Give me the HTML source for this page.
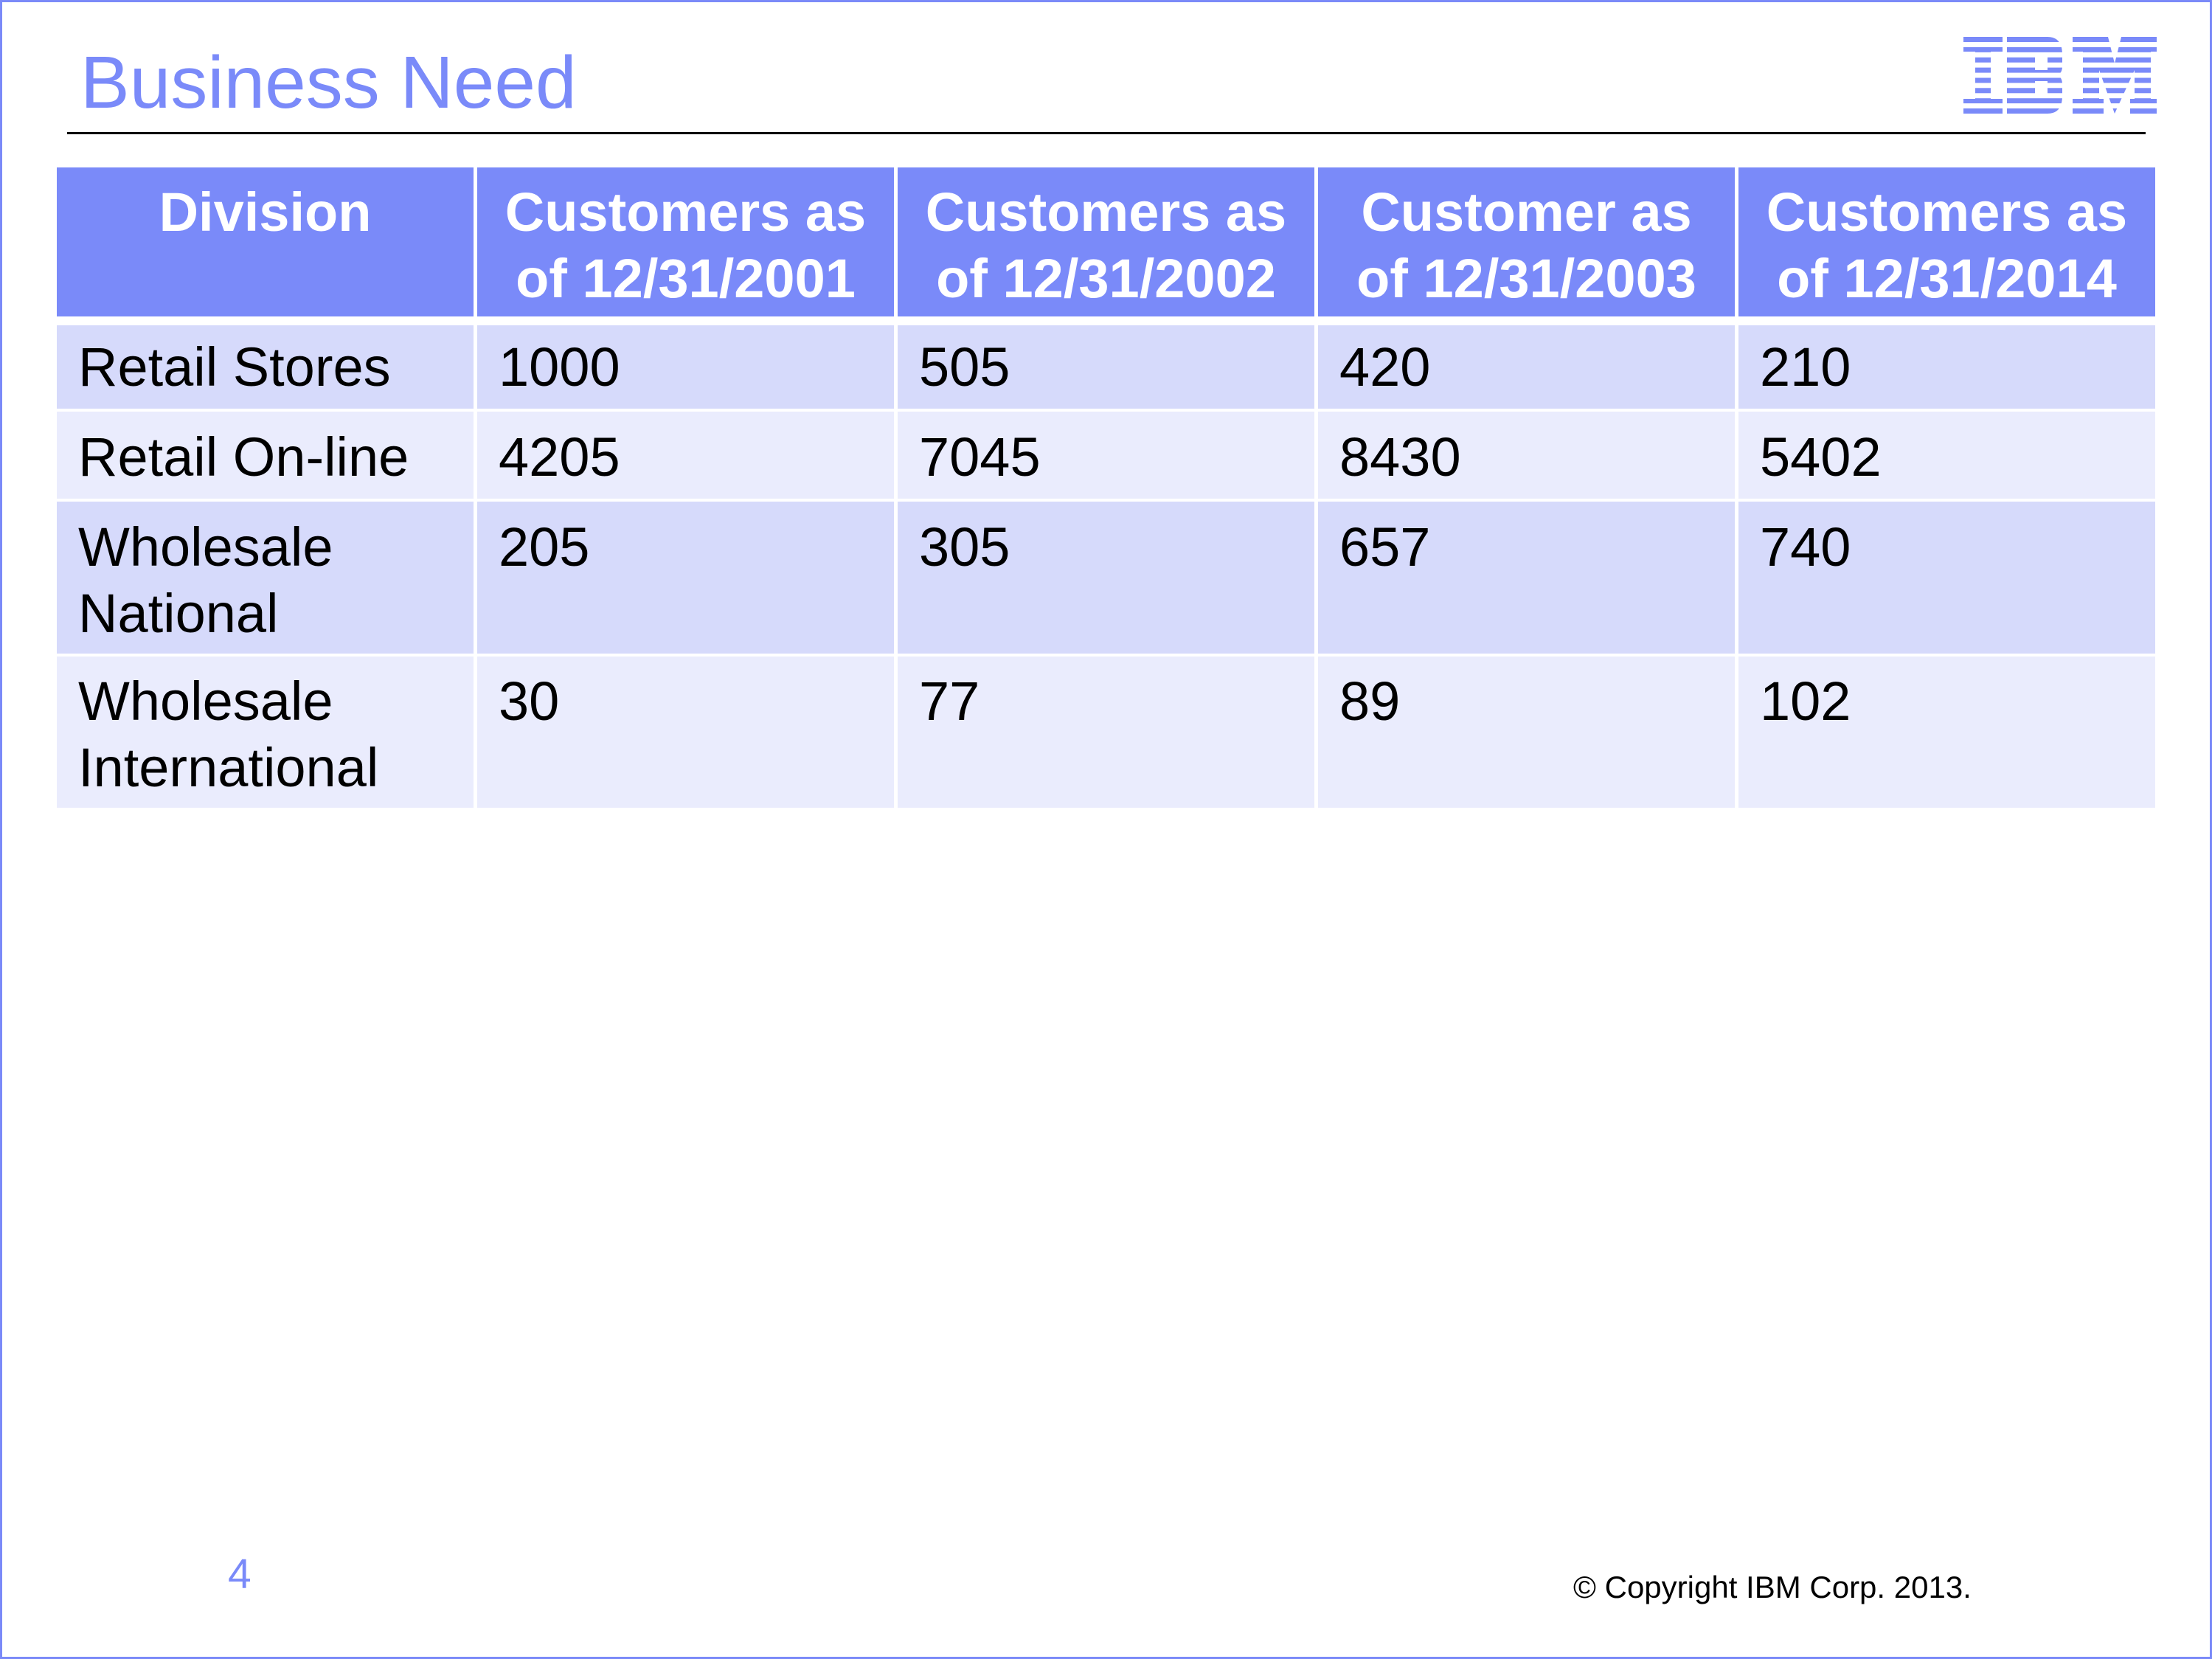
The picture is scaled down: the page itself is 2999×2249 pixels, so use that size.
<!DOCTYPE html>
<html><head><meta charset="utf-8"><style>
html,body{margin:0;padding:0;}
body{width:2999px;height:2249px;position:relative;background:#fff;overflow:hidden;font-family:"Liberation Sans",Arial,sans-serif;}
.frame{position:absolute;left:0;top:0;width:2993px;height:2243px;border:3px solid #7b8af8;}
.a{position:absolute;}
.cell{position:absolute;}
.h{background:#7a8af9;}
.o{background:#d6dafb;}
.e{background:#eaecfd;}
.t{position:absolute;font-size:74px;line-height:90px;white-space:nowrap;color:#000;}
.ht{position:absolute;font-size:74px;line-height:90px;font-weight:bold;color:#fff;text-align:center;width:565px;white-space:nowrap;}
</style></head><body>
<div class="frame"></div>
<div class="a" style="left:109px;top:62px;font-size:100px;line-height:100px;color:#7a8af9;white-space:nowrap;">Business Need</div>
<div class="a" style="left:91px;top:179px;width:2818px;height:3px;background:#000;"></div>
<svg class="a" style="left:2662px;top:50px;" width="262" height="104" viewBox="0 0 262 104">
<g fill="#7a8af9" fill-rule="evenodd">
<rect x="0" y="0" width="53" height="20"/><rect x="16" y="0" width="21" height="104"/><rect x="0" y="84" width="53" height="20"/>
<path d="M59 0 H114 Q134 0 134 24 V40 Q134 50 126 52 Q134 54 134 64 V80 Q134 104 114 104 H59 Z M97 27 H114 V45 H97 Z M97 60 H114 V78 H97 Z"/>
<path d="M148 0 H196 L205 36 L214 0 H262 V20 H254 V84 H262 V104 H226 V84 H232 V45 L205 104 L184 45 V84 H190 V104 H148 V84 H162 V20 H148 Z"/>
</g>
<g fill="#fff">
<rect x="0" y="7" width="262" height="6.9"/><rect x="0" y="20.9" width="262" height="6.9"/><rect x="0" y="34.7" width="262" height="6.9"/><rect x="0" y="48.6" width="262" height="6.9"/><rect x="0" y="62.4" width="262" height="6.9"/><rect x="0" y="76.3" width="262" height="6.9"/><rect x="0" y="90.1" width="262" height="6.9"/>
</g></svg>

<!-- header -->
<div class="cell h" style="left:77px;top:227px;width:565px;height:202px"></div>
<div class="cell h" style="left:647px;top:227px;width:565px;height:202px"></div>
<div class="cell h" style="left:1217px;top:227px;width:565px;height:202px"></div>
<div class="cell h" style="left:1787px;top:227px;width:565px;height:202px"></div>
<div class="cell h" style="left:2357px;top:227px;width:565px;height:202px"></div>
<div class="ht" style="left:77px;top:243px">Division</div>
<div class="ht" style="left:647px;top:243px">Customers as<br>of 12/31/2001</div>
<div class="ht" style="left:1217px;top:243px">Customers as<br>of 12/31/2002</div>
<div class="ht" style="left:1787px;top:243px">Customer as<br>of 12/31/2003</div>
<div class="ht" style="left:2357px;top:243px">Customers as<br>of 12/31/2014</div>

<div class="cell o" style="left:77px;top:441px;width:565px;height:113px"></div>
<div class="cell o" style="left:647px;top:441px;width:565px;height:113px"></div>
<div class="cell o" style="left:1217px;top:441px;width:565px;height:113px"></div>
<div class="cell o" style="left:1787px;top:441px;width:565px;height:113px"></div>
<div class="cell o" style="left:2357px;top:441px;width:565px;height:113px"></div>

<div class="cell e" style="left:77px;top:558px;width:565px;height:118px"></div>
<div class="cell e" style="left:647px;top:558px;width:565px;height:118px"></div>
<div class="cell e" style="left:1217px;top:558px;width:565px;height:118px"></div>
<div class="cell e" style="left:1787px;top:558px;width:565px;height:118px"></div>
<div class="cell e" style="left:2357px;top:558px;width:565px;height:118px"></div>

<div class="cell o" style="left:77px;top:680px;width:565px;height:206px"></div>
<div class="cell o" style="left:647px;top:680px;width:565px;height:206px"></div>
<div class="cell o" style="left:1217px;top:680px;width:565px;height:206px"></div>
<div class="cell o" style="left:1787px;top:680px;width:565px;height:206px"></div>
<div class="cell o" style="left:2357px;top:680px;width:565px;height:206px"></div>

<div class="cell e" style="left:77px;top:890px;width:565px;height:205px"></div>
<div class="cell e" style="left:647px;top:890px;width:565px;height:205px"></div>
<div class="cell e" style="left:1217px;top:890px;width:565px;height:205px"></div>
<div class="cell e" style="left:1787px;top:890px;width:565px;height:205px"></div>
<div class="cell e" style="left:2357px;top:890px;width:565px;height:205px"></div>

<div class="t" style="left:106px;top:453px">Retail Stores</div>
<div class="t" style="left:676px;top:453px">1000</div>
<div class="t" style="left:1246px;top:453px">505</div>
<div class="t" style="left:1816px;top:453px">420</div>
<div class="t" style="left:2386px;top:453px">210</div>

<div class="t" style="left:106px;top:575px">Retail On-line</div>
<div class="t" style="left:676px;top:575px">4205</div>
<div class="t" style="left:1246px;top:575px">7045</div>
<div class="t" style="left:1816px;top:575px">8430</div>
<div class="t" style="left:2386px;top:575px">5402</div>

<div class="t" style="left:106px;top:697px">Wholesale<br>National</div>
<div class="t" style="left:676px;top:697px">205</div>
<div class="t" style="left:1246px;top:697px">305</div>
<div class="t" style="left:1816px;top:697px">657</div>
<div class="t" style="left:2386px;top:697px">740</div>

<div class="t" style="left:106px;top:906px">Wholesale<br>International</div>
<div class="t" style="left:676px;top:906px">30</div>
<div class="t" style="left:1246px;top:906px">77</div>
<div class="t" style="left:1816px;top:906px">89</div>
<div class="t" style="left:2386px;top:906px">102</div>

<div class="a" style="left:309px;top:2106px;font-size:57px;line-height:57px;color:#7a8af9;">4</div>
<div class="a" style="left:2133px;top:2131px;font-size:42px;line-height:42px;color:#000;white-space:nowrap;">© Copyright IBM Corp. 2013.</div>
</body></html>
